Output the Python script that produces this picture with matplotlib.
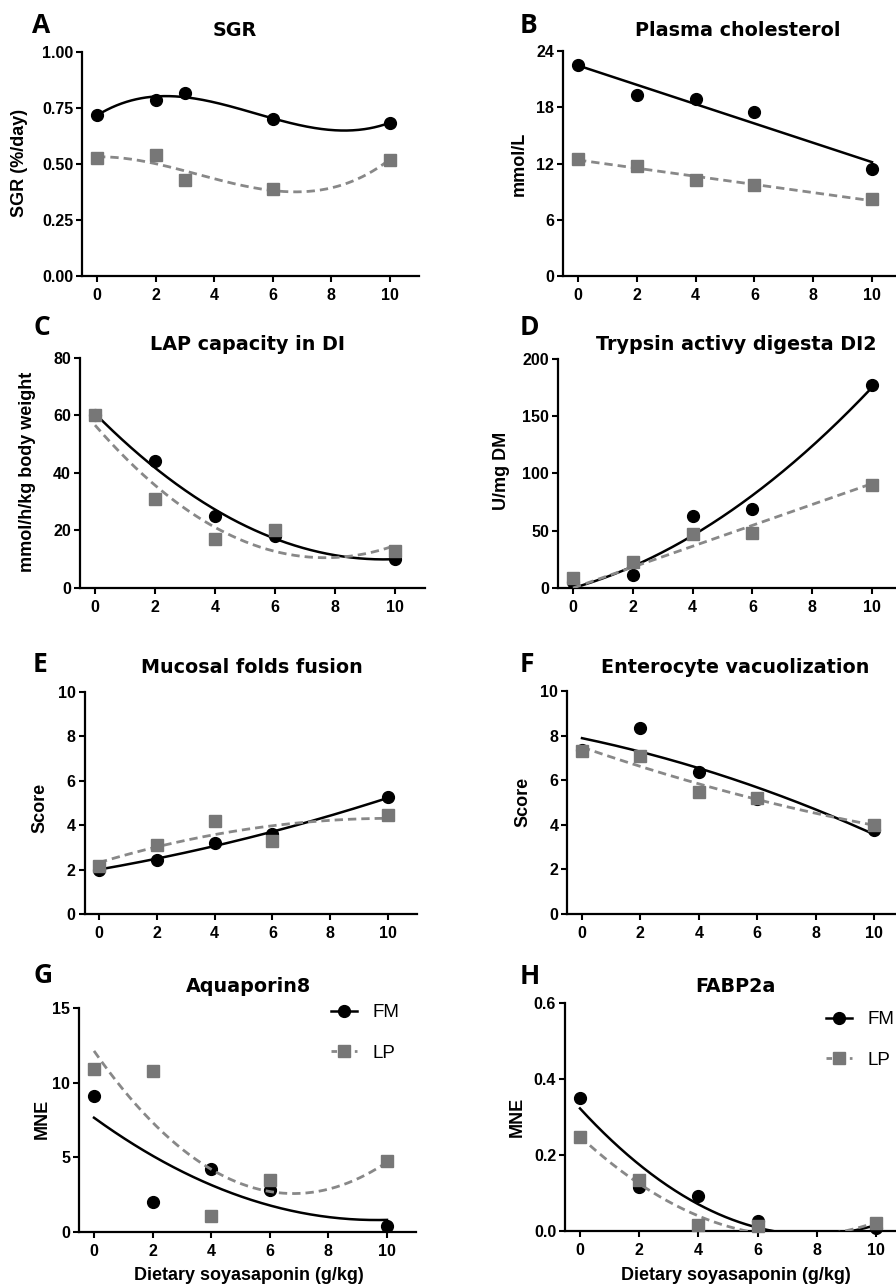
import numpy as np
import matplotlib
matplotlib.use("Agg")
import matplotlib.pyplot as plt

# ---------------- data ----------------
x_sgr = [0, 2, 3, 6, 10]
x_std = [0, 2, 4, 6, 10]

sgr_fm = [0.72, 0.785, 0.815, 0.70, 0.685]
sgr_lp = [0.525, 0.54, 0.43, 0.39, 0.52]

chol_fm = [22.5, 19.3, 18.9, 17.5, 11.4]
chol_lp = [12.5, 11.7, 10.2, 9.7, 8.2]

lap_fm = [60, 44, 25, 18, 10]
lap_lp = [60, 31, 17, 20, 13]

tryp_fm = [5, 11, 63, 69, 177]
tryp_lp = [9, 23, 47, 48, 90]

muc_fm = [2.0, 2.45, 3.2, 3.6, 5.25]
muc_lp = [2.15, 3.1, 4.2, 3.3, 4.45]

ent_fm = [7.35, 8.35, 6.35, 5.15, 3.75]
ent_lp = [7.3, 7.1, 5.45, 5.2, 4.0]

aqp_fm = [9.1, 2.0, 4.2, 2.8, 0.4]
aqp_lp = [10.9, 10.8, 1.1, 3.5, 4.75]

fabp_fm = [0.35, 0.115, 0.092, 0.027, 0.008]
fabp_lp = [0.248, 0.135, 0.015, 0.012, 0.02]

x_ticks = [0, 2, 4, 6, 8, 10]
titles = ["SGR", "Plasma cholesterol", "LAP capacity in DI", "Trypsin activy digesta DI2",
          "Mucosal folds fusion", "Enterocyte vacuolization", "Aquaporin8", "FABP2a"]
letters = ["A", "B", "C", "D", "E", "F", "G", "H"]
ylabels = ["SGR (%/day)", "mmol/L", "mmol/h/kg body weight", "U/mg DM",
           "Score", "Score", "MNE", "MNE"]
xlabel_text = "Dietary soyasaponin (g/kg)"
legend_labels = ["FM", "LP"]

yticks_list = [
    ([0, 0.25, 0.5, 0.75, 1.0], ["0.00", "0.25", "0.50", "0.75", "1.00"]),
    ([0, 6, 12, 18, 24], ["0", "6", "12", "18", "24"]),
    ([0, 20, 40, 60, 80], ["0", "20", "40", "60", "80"]),
    ([0, 50, 100, 150, 200], ["0", "50", "100", "150", "200"]),
    ([0, 2, 4, 6, 8, 10], ["0", "2", "4", "6", "8", "10"]),
    ([0, 2, 4, 6, 8, 10], ["0", "2", "4", "6", "8", "10"]),
    ([0, 5, 10, 15], ["0", "5", "10", "15"]),
    ([0, 0.2, 0.4, 0.6], ["0.0", "0.2", "0.4", "0.6"]),
]

# ---------------- layout (pixels) ----------------
W, H = 896, 1285
# x-pixel of x=0, x=10, top, bottom of y axis
geom = [
    (97, 390, 52, 276), (578, 872, 51, 276),
    (95, 395, 358, 588), (573, 872, 359, 588),
    (99, 388, 692, 914), (582, 874, 691, 914),
    (94, 387, 1008, 1232), (580, 876, 1003, 1231),
]
letter_pos = [(32, 33), (520, 33), (33, 335), (520, 335),
              (33, 672), (520, 672), (33, 983), (520, 984)]
title_pos = [(235, 36), (738, 36), (247, 350), (736, 350),
             (252, 673), (735, 673), (248, 992), (735, 992)]
ylabel_pos = [(20, 163), (519, 164), (28, 472), (502, 471),
              (40, 808), (523, 802), (42, 1119), (517, 1117)]

series = [
    (x_sgr, sgr_fm, sgr_lp, (3, 3), False),
    (x_std, chol_fm, chol_lp, (1, 1), False),
    (x_std, lap_fm, lap_lp, (2, 2), False),
    (x_std, tryp_fm, tryp_lp, (2, 1), True),
    (x_std, muc_fm, muc_lp, (2, 2), False),
    (x_std, ent_fm, ent_lp, (2, 2), False),
    (x_std, aqp_fm, aqp_lp, (2, 2), False),
    (x_std, fabp_fm, fabp_lp, (2, 2), False),
]


def fit_curve(x, y, deg, origin=False):
    x = np.asarray(x, float)
    y = np.asarray(y, float)
    xs = np.linspace(x.min(), x.max(), 300)
    if origin:
        A = np.vstack([x ** k for k in range(1, deg + 1)]).T
        coef, *_ = np.linalg.lstsq(A, y, rcond=None)
        ys = sum(c * xs ** (k + 1) for k, c in enumerate(coef))
    else:
        ys = np.polyval(np.polyfit(x, y, deg), xs)
    return xs, ys


TICKF = dict(family="Liberation Sans", weight="bold", size=11.5)
BLACK = "#000000"
SQ = "#777777"
DASH = "#888888"

fig = plt.figure(figsize=(W / 100, H / 100), dpi=100)

for i in range(8):
    x0, x10, top, bot = geom[i]
    ppu = (x10 - x0) / 10.0
    left = x0 - 0.5 * ppu
    right = x10 + 1.0 * ppu
    ax = fig.add_axes([left / W, 1 - bot / H, (right - left) / W, (bot - top) / H])
    ax.set_facecolor("none")
    xs_, fm, lp, degs, origin = series[i]

    xf, yf = fit_curve(xs_, fm, degs[0], origin)
    ax.plot(xf, yf, color=BLACK, lw=1.8, zorder=3)
    ax.plot(xs_, fm, "o", color=BLACK, ms=8.5, clip_on=False, zorder=4)
    xl, yl = fit_curve(xs_, lp, degs[1], origin)
    ax.plot(xl, yl, color=DASH, lw=2.0, dashes=(3, 1.8), zorder=5)
    ax.plot(xs_, lp, "s", color=SQ, ms=8, clip_on=False, zorder=6)

    yt, ytl = yticks_list[i]
    ax.set_xlim(-0.5, 11)
    ax.set_ylim(yt[0], yt[-1])
    ax.set_xticks(x_ticks)
    ax.set_xticklabels([str(v) for v in x_ticks], **TICKF)
    ax.set_yticks(yt)
    ax.set_yticklabels(ytl, **TICKF)
    for s in ["top", "right"]:
        ax.spines[s].set_visible(False)
    for s in ["left", "bottom"]:
        ax.spines[s].set_linewidth(1.6)
    ax.tick_params(axis="both", direction="out", length=4.5, width=1.5, colors="black")
    ax.tick_params(axis="x", pad=4.0)
    ax.tick_params(axis="y", pad=2.0)

    lx, ly = letter_pos[i]
    fig.text(lx / W, 1 - ly / H, letters[i], family="Open Sans", weight="bold",
             size=19, ha="left", va="baseline")
    tx, ty = title_pos[i]
    fig.text(tx / W, 1 - ty / H, titles[i], family="DejaVu Sans", weight="bold",
             size=13.8, ha="center", va="baseline")
    yx, yy = ylabel_pos[i]
    fig.text(yx / W, 1 - yy / H, ylabels[i], family="Liberation Sans", weight="bold",
             size=13, ha="center", va="center", rotation=90)

    if i >= 6:
        cx = 249 if i == 6 else 735.5
        fig.text(cx / W, 1 - 1280 / H, xlabel_text, family="Liberation Sans",
                 weight="bold", size=13, ha="center", va="baseline")
        h_fm = plt.Line2D([], [], color=BLACK, lw=1.8, marker="o", ms=8.5)
        h_lp = plt.Line2D([], [], color=DASH, lw=2.0, dashes=(2, 2.2), marker="s",
                          ms=8, mfc=SQ, mec=SQ)
        lgx, lgy = (331, 1004) if i == 6 else (826, 1011)
        ax.legend([h_fm, h_lp], legend_labels, loc="upper left",
                  bbox_to_anchor=(lgx / W, 1 - lgy / H), bbox_transform=fig.transFigure,
                  frameon=False, handlelength=1.4, handletextpad=0.8,
                  labelspacing=1.25, borderpad=0, borderaxespad=0,
                  prop=dict(family="Liberation Sans", size=13.5))

fig.savefig("out.png", dpi=100)
